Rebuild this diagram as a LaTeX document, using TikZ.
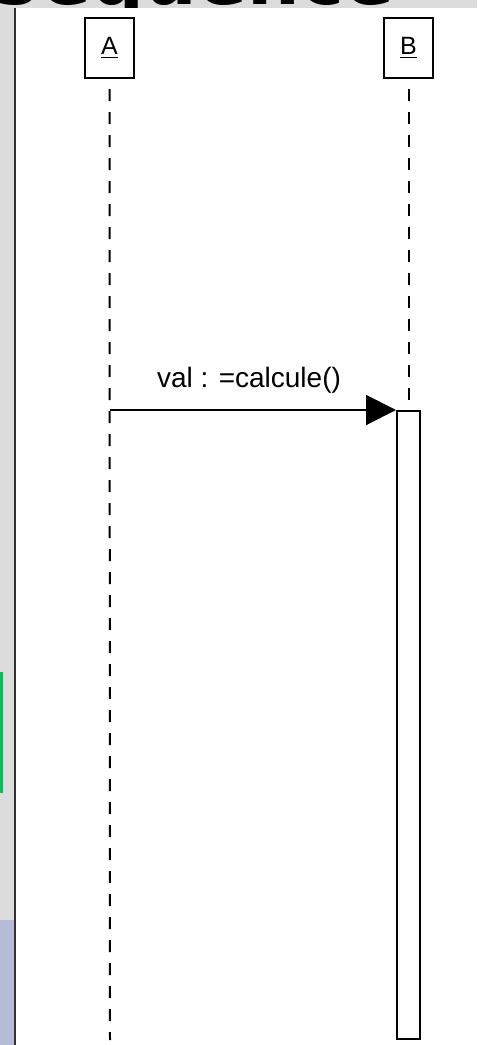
\documentclass[tikz,border=0pt]{standalone}
\usepackage{fontspec}
\usepackage{xcolor}
\usetikzlibrary{arrows.meta}
\newfontfamily\diagfont{Liberation Sans}
\newfontfamily\headfont{DejaVu Sans}
\definecolor{panelGray}{RGB}{220,220,220}
\definecolor{frameDark}{RGB}{50,50,50}
\definecolor{railGreen}{RGB}{20,185,95}
\definecolor{tabBlue}{RGB}{181,186,216}
\tikzset{
  objBox/.style={draw,line width=1pt,minimum width=24.5pt,minimum height=30pt,inner sep=0pt,font=\diagfont\fontsize{12.5}{14}\selectfont},
  lifeLine/.style={line width=1pt,dash pattern=on 6pt off 5.5pt},
  actBar/.style={draw,fill=white,line width=1pt,minimum width=11.5pt,minimum height=314pt,inner sep=0pt,anchor=north},
  callMsg/.style={line width=1pt,-{Triangle[length=15pt,width=15pt]}},
  msgText/.style={font=\diagfont\fontsize{14}{16}\selectfont,inner sep=1pt}
}

\begin{document}
\begin{tikzpicture}[x=0.5pt,y=-0.5pt]
  \useasboundingbox (0,0) rectangle (477,1045);
  % screen around the diagram
  \fill[panelGray] (0,0) rectangle (477,1045);
  \begin{scope}
    \clip (0,0) rectangle (477,8);
    \node[anchor=base east,inner sep=0pt,font=\headfont\bfseries\fontsize{37}{40}\selectfont] (title) at (395,4) {Séquence};
  \end{scope}
  \fill[railGreen] (0,672) rectangle (2.5,793);
  \fill[tabBlue] (0,920) rectangle (15,1045);
  \fill[white] (15,8) rectangle (477,1045);
  \draw[frameDark,line width=1pt] (15,8) -- (15,1045);

  % objects
  \node[objBox] (a) at (109.5,48) {\underline{A}};
  \node[objBox] (b) at (408.5,48) {\underline{B}};
  \node[actBar] (act) at (408.5,410) {};

  \coordinate (aEnd) at (110,1040);
  \coordinate (callStart) at (110,410);

  % lifelines
  \draw[lifeLine,shorten <=5pt] (a) -- (aEnd);
  \draw[lifeLine,shorten <=5pt] (b) -- (act.north);

  % message
  \draw[callMsg] (callStart) -- (act.north west)
    node[msgText,midway,above=7pt,xshift=-2pt] (callLbl) {val : =calcule()};
\end{tikzpicture}
\end{document}
